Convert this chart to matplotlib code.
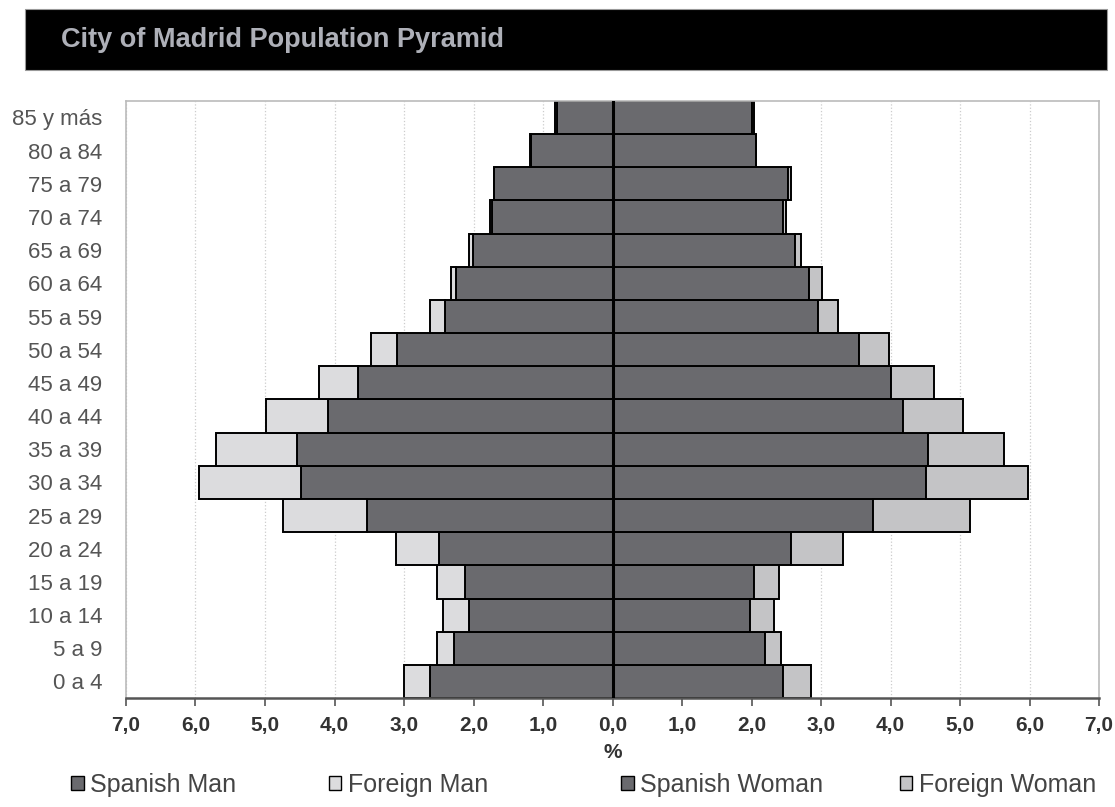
import numpy as np
import matplotlib
matplotlib.use('Agg')
from matplotlib import pyplot as plt
from matplotlib.patches import Rectangle, Patch

plt.rcParams['font.family'] = ['Liberation Sans', 'DejaVu Sans']

# grupos de edad, de abajo hacia arriba
ages = ['0 a 4', '5 a 9', '10 a 14', '15 a 19', '20 a 24', '25 a 29', '30 a 34',
        '35 a 39', '40 a 44', '45 a 49', '50 a 54', '55 a 59', '60 a 64',
        '65 a 69', '70 a 74', '75 a 79', '80 a 84', '85 y más']

# % de poblacion
spanish_man = [2.62, 2.28, 2.06, 2.12, 2.50, 3.53, 4.48, 4.54, 4.09, 3.66,
               3.10, 2.41, 2.25, 2.01, 1.74, 1.70, 1.18, 0.80]
foreign_man = [0.38, 0.24, 0.38, 0.40, 0.62, 1.21, 1.47, 1.17, 0.89, 0.57,
               0.37, 0.22, 0.08, 0.05, 0.03, 0.01, 0.01, 0.03]
spanish_woman = [2.45, 2.20, 1.98, 2.04, 2.57, 3.75, 4.51, 4.54, 4.18, 4.01,
                 3.55, 2.95, 2.83, 2.63, 2.45, 2.53, 2.06, 2.01]
foreign_woman = [0.41, 0.23, 0.35, 0.36, 0.74, 1.40, 1.47, 1.09, 0.86, 0.62,
                 0.43, 0.29, 0.18, 0.08, 0.04, 0.04, 0.01, 0.03]

xticks = [-7, -6, -5, -4, -3, -2, -1, 0, 1, 2, 3, 4, 5, 6, 7]
xlabels = ['7,0', '6,0', '5,0', '4,0', '3,0', '2,0', '1,0', '0,0',
           '1,0', '2,0', '3,0', '4,0', '5,0', '6,0', '7,0']

series_names = ['Spanish Man', 'Foreign Man', 'Spanish Woman', 'Foreign Woman']

c_spanish = '#6a6a6e'
c_for_man = '#dcdcde'
c_for_woman = '#c4c4c6'

fig = plt.figure(figsize=(11.15, 8.07), dpi=100)

# barra negra del titulo
fig.patches.append(Rectangle((0.0224, 0.913), 0.970, 0.076, transform=fig.transFigure,
                             facecolor='black', edgecolor='#999999', lw=0.8))
fig.text(0.055, 0.950, 'City of Madrid Population Pyramid', color='#aeb0b8',
         fontsize=19.5, fontweight='bold', va='center', ha='left')

ax = fig.add_axes([0.113, 0.135, 0.8727, 0.74])

y = np.arange(len(ages))
sm = np.array(spanish_man)
sw = np.array(spanish_woman)
ax.barh(y, -sm, height=1.0, color=c_spanish, edgecolor='black', lw=1.4, zorder=2)
ax.barh(y, -np.array(foreign_man), left=-sm, height=1.0, color=c_for_man,
        edgecolor='black', lw=1.4, zorder=2)
ax.barh(y, sw, height=1.0, color=c_spanish, edgecolor='black', lw=1.4, zorder=2)
ax.barh(y, foreign_woman, left=sw, height=1.0, color=c_for_woman,
        edgecolor='black', lw=1.4, zorder=2)
ax.axvline(0, color='black', lw=2.2, zorder=3)

ax.set_xlim(-7, 7)
ax.set_ylim(-0.5, len(ages) - 0.5)
ax.set_xticks(xticks)
ax.set_xticklabels(xlabels, fontsize=15, fontweight='bold', color='#333333')
ax.set_yticks(y)
ax.set_yticklabels(ages, fontsize=16, color='#555555')
ax.tick_params(axis='y', length=0, pad=17)
ax.tick_params(axis='x', length=6, width=1.2, color='#555555', direction='out', pad=7)
ax.grid(axis='x', ls=':', color='#cccccc', lw=0.9, zorder=0)

for s in ['top', 'left', 'right']:
    ax.spines[s].set_color('#bbbbbb')
    ax.spines[s].set_linewidth(1.2)
ax.spines['bottom'].set_color('#555555')
ax.spines['bottom'].set_linewidth(1.8)

ax.set_xlabel('%', fontsize=15, fontweight='bold', color='#333333', labelpad=6)

# leyenda: cada entrada en su sitio
colors = [c_spanish, c_for_man, c_spanish, c_for_woman]
leg_x = [0.0637, 0.295, 0.557, 0.807]
for name, col, lx in zip(series_names, colors, leg_x):
    h = Patch(facecolor=col, edgecolor='black')
    fig.legend([h], [name], loc='center left', bbox_to_anchor=(lx, 0.027),
               frameon=False, fontsize=18, handlelength=0.5, handleheight=0.5,
               handletextpad=0.25, borderpad=0, borderaxespad=0,
               labelcolor='#444444')

fig.savefig('out.png', dpi=100)
